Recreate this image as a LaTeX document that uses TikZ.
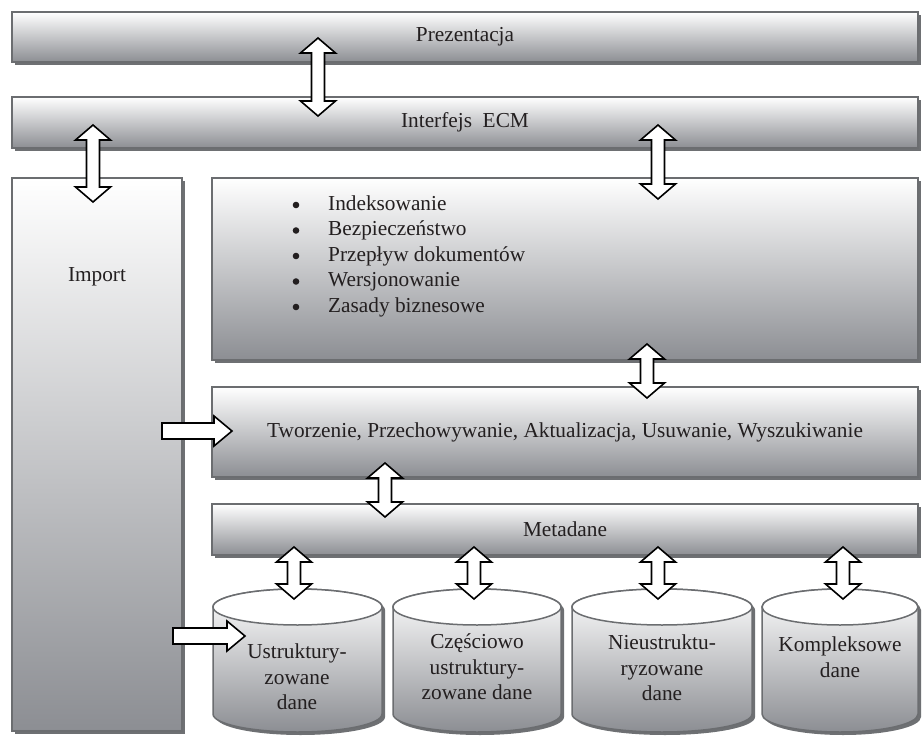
\documentclass[tikz,border=0pt]{standalone}
\usepackage{fontspec}
\setmainfont{Liberation Serif}
\usetikzlibrary{calc,shadows}
\definecolor{edgec}{HTML}{6B6D70}
\definecolor{shadec}{HTML}{8C8E93}
\definecolor{shadowc}{HTML}{6E7073}
\definecolor{txt}{HTML}{231F20}
\newcommand\vdarrow[2]{\draw[blk] (#1) -- ($(#1)+(17.5,15)$) -- ($(#1)+(6.5,15)$) -- ($(#2)+(6.5,-15)$) -- ($(#2)+(17.5,-15)$) -- (#2) -- ($(#2)+(-17.5,-15)$) -- ($(#2)+(-6.5,-15)$) -- ($(#1)+(-6.5,15)$) -- ($(#1)+(-17.5,15)$) -- cycle;}
\newcommand\hrarrow[2]{\draw[blk] ($(#1)+(0,-8)$) -- ($(#2)+(-18,-8)$) -- ($(#2)+(-18,-15)$) -- (#2) -- ($(#2)+(-18,15)$) -- ($(#2)+(-18,8)$) -- ($(#1)+(0,8)$) -- cycle;}
\newcommand\cylshape[2]{% #1 x left, #2 x right
  \pgfmathsetmacro\cylrx{(#2-#1)/2}%
  \pgfmathsetmacro\cylcx{(#2+#1)/2}%
  \fill[shadowc,xshift=3pt,yshift=-3pt] (#1,607) -- (#1,714) arc[start angle=180,end angle=0,x radius=\cylrx,y radius=18] -- (#2,607) arc[start angle=0,end angle=-180,x radius=\cylrx,y radius=18] -- cycle;
  \draw[draw=edgec,line width=1.5pt,top color=white,bottom color=shadec] (#1,607) -- (#1,714) arc[start angle=180,end angle=0,x radius=\cylrx,y radius=18] -- (#2,607) arc[start angle=0,end angle=-180,x radius=\cylrx,y radius=18] -- cycle;
  \draw[draw=edgec,line width=1.5pt,fill=white] (\cylcx,607) ellipse[x radius=\cylrx,y radius=18];
}
\begin{document}
\begin{tikzpicture}[x=1pt,y=-1pt,
  box/.style={draw=edgec, line width=1.5pt, top color=white, bottom color=shadec,
    drop shadow={shadow xshift=3pt, shadow yshift=-3pt, fill=shadowc, opacity=1},
    inner sep=0pt, font=\fontsize{21.3}{25.5}\selectfont, text=txt},
  lbl/.style={font=\fontsize{21.3}{25.5}\selectfont, text=txt, inner sep=0pt},
  blk/.style={draw=black, line width=1.6pt, fill=white, line join=miter}]
\useasboundingbox (0,0) rectangle (922,736);
\fill[white] (0,0) rectangle (922,736);

% boxes
\node[box, minimum width=906pt, minimum height=50pt] (prez) at (465,37) {Prezentacja};
\node[box, minimum width=906pt, minimum height=51pt] (ecm) at (465,122.5) {Interfejs~~ECM};
\node[box, minimum width=170pt, minimum height=553pt] (imp) at (97,454.5) {};
\node[lbl] (implbl) at (97,277) {Import};
\node[box, minimum width=706pt, minimum height=182pt] (funk) at (565,269) {};
\node[lbl, anchor=west] (lista) at (328,256) {\begin{tabular}{@{}l@{}}
Indeksowanie\\
Bezpieczeństwo\\
Przepływ dokumentów\\
Wersjonowanie\\
Zasady biznesowe
\end{tabular}};
\foreach \k in {-2,...,2} \fill[txt] (296,256+25.5*\k) circle[radius=3.3];
\node[box, minimum width=706pt, minimum height=90pt] (tworz) at (565,432) {Tworzenie, Przechowywanie, Aktualizacja, Usuwanie, Wyszukiwanie};
\node[box, minimum width=706pt, minimum height=51pt] (meta) at (565,529.5) {Metadane};

% cylinders
\cylshape{213}{382}
\cylshape{393}{561}
\cylshape{572}{752}
\cylshape{762}{918}
\node[lbl, align=center] (c1) at (297,677) {Ustruktury-\\zowane\\dane};
\node[lbl, align=center] (c2) at (477,667) {Częściowo\\ustruktury-\\zowane dane};
\node[lbl, align=center] (c3) at (662,668) {Nieustruktu-\\ryzowane\\dane};
\node[lbl, align=center] (c4) at (840,657) {Kompleksowe\\dane};

% arrow end points
\coordinate (a1t) at (318,38);  \coordinate (a1b) at (318,116);
\coordinate (a2t) at (93,125);  \coordinate (a2b) at (93,202);
\coordinate (a3t) at (658,125); \coordinate (a3b) at (658,199);
\coordinate (a4t) at (647,344); \coordinate (a4b) at (647,398);
\coordinate (a5t) at (385,463); \coordinate (a5b) at (385,517);
\coordinate (a6t) at (294,547); \coordinate (a6b) at (294,599);
\coordinate (a7t) at (474,547); \coordinate (a7b) at (474,599);
\coordinate (a8t) at (658,547); \coordinate (a8b) at (658,599);
\coordinate (a9t) at (843,547); \coordinate (a9b) at (843,599);
\coordinate (h1s) at (162,431); \coordinate (h1e) at (232,431);
\coordinate (h2s) at (173,636); \coordinate (h2e) at (245,636);

\vdarrow{a1t}{a1b}
\vdarrow{a2t}{a2b}
\vdarrow{a3t}{a3b}
\vdarrow{a4t}{a4b}
\vdarrow{a5t}{a5b}
\vdarrow{a6t}{a6b}
\vdarrow{a7t}{a7b}
\vdarrow{a8t}{a8b}
\vdarrow{a9t}{a9b}
\hrarrow{h1s}{h1e}
\hrarrow{h2s}{h2e}
\end{tikzpicture}
\end{document}
